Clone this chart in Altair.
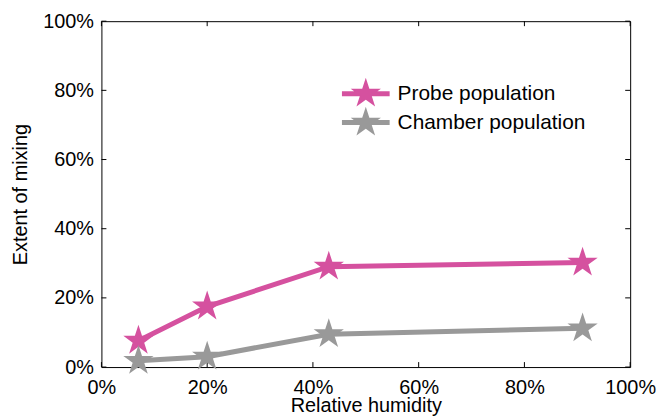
import math
import altair as alt
import pandas as pd

# ---- data ----
rh = [0.07, 0.20, 0.43, 0.91]
probe = [0.076, 0.175, 0.29, 0.302]
chamber = [0.018, 0.030, 0.095, 0.112]
series_names = ["Probe population", "Chamber population"]
series_colors = ["#D5519F", "#999999"]
tick_values = [0, 0.2, 0.4, 0.6, 0.8, 1.0]

rows = []
for i, (name, vals) in enumerate(zip(series_names, [probe, chamber])):
    for x, y in zip(rh, vals):
        rows.append({"series": name, "rh": x, "mix": y, "order": i})
df = pd.DataFrame(rows)
ticks = pd.DataFrame({"rh": tick_values, "mix": tick_values})

W, H = 532, 348
FONT = "Liberation Sans"
TICK_LEN = 5

# pentagram path (unit radius), clockwise
pts = []
for k in range(10):
    ang = math.radians(-90 + 36 * k)
    r = 1.0 if k % 2 == 0 else 0.382
    pts.append((r * math.cos(ang), r * math.sin(ang)))
star_path = "M" + " L".join(f"{x:.4f},{y:.4f}" for x, y in pts) + " Z"
legend_path = "M-1.5,-0.16 L1.5,-0.16 L1.5,0.16 L-1.5,0.16 Z " + star_path

xscale = alt.Scale(domain=[0, 1], nice=False, zero=False)
yscale = alt.Scale(domain=[0, 1], nice=False, zero=False)
cscale = alt.Scale(domain=series_names, range=series_colors)

axis_common = dict(
    values=tick_values, format=".0%", grid=False, ticks=False, tickSize=0,
    domain=False, labelFont=FONT, titleFont=FONT, labelFontSize=20,
    titleFontSize=20, labelColor="black", titleColor="black",
    titleFontWeight="normal", labelFlush=False, labelOverlap=False,
    titleBaseline="alphabetic",
)
x_axis = alt.Axis(title="Relative humidity", labelPadding=11, titleY=45,
                  **axis_common)
y_axis = alt.Axis(title="Extent of mixing", labelPadding=8, titleX=-75,
                  **axis_common)
legend = alt.Legend(
    title=None, orient="none", legendX=250, legendY=57,
    symbolType=legend_path, symbolSize=1024, symbolStrokeWidth=0,
    labelFont=FONT, labelFontSize=21, labelColor="black", labelLimit=400,
    labelOffset=16, rowPadding=-1, padding=0,
)

X = alt.X("rh:Q", scale=xscale, axis=x_axis, title="Relative humidity")
Y = alt.Y("mix:Q", scale=yscale, axis=y_axis, title="Extent of mixing")
C = alt.Color("series:N", scale=cscale, legend=legend)

base = alt.Chart(df)

lines = base.mark_line(strokeWidth=5).encode(x=X, y=Y, color=C, detail="series:N")

points = base.mark_point(shape=star_path, filled=True, size=1024,
                         opacity=1, strokeWidth=0).encode(
    x=X, y=Y, color=C, order=alt.Order("order:Q"))

tk = alt.Chart(ticks)
rule = dict(color="black", strokeWidth=1)
bottom_ticks = tk.mark_rule(**rule).encode(
    x=X, y=alt.value(H), y2=alt.value(H - TICK_LEN))
top_ticks = tk.mark_rule(**rule).encode(
    x=X, y=alt.value(0), y2=alt.value(TICK_LEN))
left_ticks = tk.mark_rule(**rule).encode(
    y=Y, x=alt.value(0), x2=alt.value(TICK_LEN))
right_ticks = tk.mark_rule(**rule).encode(
    y=Y, x=alt.value(W), x2=alt.value(W - TICK_LEN))

chart = alt.layer(
    bottom_ticks, top_ticks, left_ticks, right_ticks, lines, points
).properties(
    width=W, height=H,
    autosize=alt.AutoSizeParams(type="none"),
    padding={"left": 94, "top": 12, "right": 27, "bottom": 50},
    background="white",
).configure_view(stroke="black", strokeWidth=1)

chart.save("out.html", embed_options={"renderer": "svg", "actions": False})
